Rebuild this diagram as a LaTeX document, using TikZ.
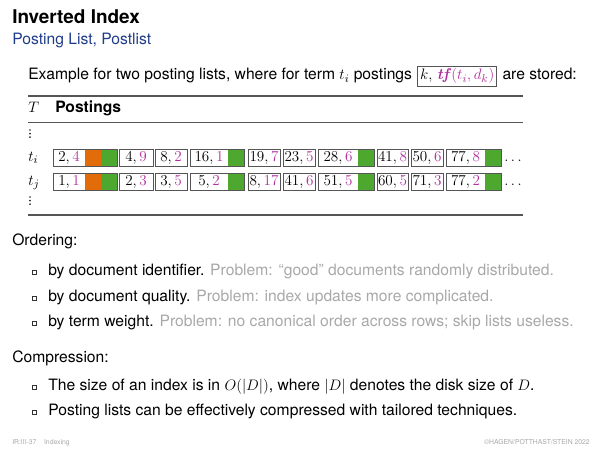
\documentclass[tikz,border=0pt]{standalone}
\usepackage{fontspec}
\setsansfont{TeX Gyre Heros}
\renewcommand{\familydefault}{\sfdefault}
\usetikzlibrary{positioning}
\definecolor{SlideBlue}{HTML}{1F3C88}
\definecolor{TfMagenta}{HTML}{B0309E}
\definecolor{SkipOrange}{HTML}{E36C0A}
\definecolor{SkipGreen}{HTML}{4EA72E}
\definecolor{ProblemGray}{HTML}{A8A8A8}
\definecolor{RuleGray}{HTML}{555555}
\newdimen\pxu \pxu=0.792pt
\newcommand{\tfv}[1]{{\color{TfMagenta}#1}}

\begin{document}
\begin{tikzpicture}[x=0.792pt,y=-0.792pt,
  bodytext/.style={anchor=base west,inner sep=0pt,font=\fontsize{12.4}{14}\selectfont},
  pentry/.style={inner sep=0pt,minimum height=17\pxu,font=\fontsize{12}{14}\selectfont},
  pframe/.style={draw=RuleGray,line width=0.9\pxu},
  sqbullet/.pic={\fill[black!75] (0.9,0.9) rectangle (5.4,-3.6);
    \filldraw[fill=white,draw=black!80,line width=0.6\pxu] (0,0) rectangle (4.5,-4.5);}
]
\useasboundingbox (0,0) rectangle (600,450);
% title
\node[bodytext,font=\fontsize{15}{18}\selectfont\bfseries] (title) at (12,24) {Inverted Index};
\node[bodytext,text=SlideBlue] (subtitle) at (12,45) {Posting List, Postlist};
% example line
\node[bodytext] (ex) at (28,80) {Example for two posting lists, where for term $t_i$ postings};
\node[draw=RuleGray,line width=0.8\pxu,inner sep=2pt,font=\fontsize{12.4}{14}\selectfont,right=4pt of ex.base east,anchor=base west] (exbox)
  {$k,$ \tfv{\textrm{\bfseries\itshape tf}$(t_i,d_k)$}};
\node[bodytext,right=4pt of exbox.base east,anchor=base west] (exend) {are stored:};
% table
\draw[RuleGray,line width=1.3\pxu] (28,96) -- (523,96);
\node[bodytext] (hT) at (28,113) {$T$};
\node[bodytext,font=\fontsize{12.4}{14}\selectfont\bfseries] (hP) at (55,113) {Postings};
\draw[RuleGray,line width=0.8\pxu] (28,122) -- (523,122);
\foreach \dy in {0,3.6,7.2} {
  \fill[black!85] (30,130+\dy) circle (0.95);
  \fill[black!85] (30,197+\dy) circle (0.95);
}
\node[bodytext] (ti) at (28,161.5) {$t_i$};
\node[bodytext] (tj) at (28,185.5) {$t_j$};
\draw[RuleGray,line width=1.3\pxu] (28,215) -- (523,215);
\foreach \xl/\bw/\fl/\ai/\bi/\aj/\bj [count=\n] in {53/32/2/2/4/1/1, 119/34/0/4/9/2/3,
    155/32/0/8/2/3/5, 190/38/1/16/1/5/2, 248/32/0/19/7/8/17, 283/32/0/23/5/41/6,
    318/40/1/28/6/51/5, 377/31/0/41/8/60/5, 411/32/0/50/6/71/3, 446/39/1/77/8/77/2} {
  \pgfmathsetmacro\xr{\xl+\bw+16*\fl}
  \pgfmathsetmacro\xm{\xl+\bw}
  \ifnum\fl=2
    \fill[SkipOrange] (\xm,149.5) rectangle (\xm+16,166.5);
    \fill[SkipOrange] (\xm,173.5) rectangle (\xm+16,190.5);
    \fill[SkipGreen] (\xm+16,149.5) rectangle (\xr,166.5);
    \fill[SkipGreen] (\xm+16,173.5) rectangle (\xr,190.5);
  \fi
  \ifnum\fl=1
    \fill[SkipGreen] (\xm,149.5) rectangle (\xr,166.5);
    \fill[SkipGreen] (\xm,173.5) rectangle (\xr,190.5);
  \fi
  \node[pentry,minimum width=\bw\pxu] (pi\n) at (\xl+\bw/2,158) {$\ai,\tfv{\bi}$};
  \node[pentry,minimum width=\bw\pxu] (pj\n) at (\xl+\bw/2,182) {$\aj,\tfv{\bj}$};
  \draw[pframe] (\xl,149.5) rectangle (\xr,166.5);
  \draw[pframe] (\xl,173.5) rectangle (\xr,190.5);
}
\node[bodytext] (dotsi) at (504,162) {$\ldots$};
\node[bodytext] (dotsj) at (504,186) {$\ldots$};
% ordering
\node[bodytext] (ord) at (12,246) {Ordering:};
\foreach \yb/\lead/\prob in {275/by document identifier./Problem: “good” documents randomly distributed.,
    301/by document quality./Problem: index updates more complicated.,
    326/by term weight./Problem: no canonical order across rows; skip lists useless.} {
  \pic at (32,\yb-0.5) {sqbullet};
  \node[bodytext] at (48,\yb) {\lead{} \textcolor{ProblemGray}{\prob}};
}
% compression
\node[bodytext] (comp) at (12,362) {Compression:};
\pic at (32,389.5) {sqbullet};
\node[bodytext] (c1) at (48,390) {The size of an index is in $O(|D|)$, where $|D|$ denotes the disk size of $D$.};
\pic at (32,414.5) {sqbullet};
\node[bodytext] (c2) at (48,415) {Posting lists can be effectively compressed with tailored techniques.};
% footer
\node[bodytext,font=\fontsize{5.4}{6}\selectfont,text=ProblemGray] (foot) at (12,444) {IR:III-37\hspace{6pt}Indexing};
\node[anchor=base east,inner sep=0pt,font=\fontsize{5.4}{6}\selectfont,text=ProblemGray] (copy) at (590,444) {©HAGEN/POTTHAST/STEIN 2022};
\end{tikzpicture}
\end{document}
